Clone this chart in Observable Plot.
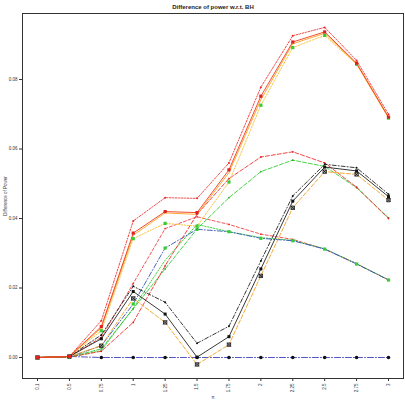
<!DOCTYPE html>
<html><head><meta charset="utf-8">
<script src="https://cdn.jsdelivr.net/npm/d3@7"></script>
<script src="https://cdn.jsdelivr.net/npm/@observablehq/plot@0.6"></script>
<style>body{margin:0;background:#fff;font-family:"Liberation Sans",Arial,sans-serif}</style>
</head><body><div id="chart"></div>
<script>
const piLabels = ["0.1","0.5","0.75","1","1.25","1.5","1.75","2","2.25","2.5","2.75","3"];
const yTicks = [0, 0.02, 0.04, 0.06, 0.08];
const titleText = "Difference of power w.r.t. BH";

const serA = [0,0.0003,0.0106,0.0393,0.046,0.0458,0.056,0.0778,0.0926,0.095,0.0855,0.070];
const serB = [0,0.0003,0.0089,0.0358,0.042,0.0417,0.054,0.0752,0.0908,0.0937,0.0847,0.0692];
const serC = [0,0.0003,0.0085,0.0352,0.0416,0.0412,0.0532,0.0742,0.0903,0.0933,0.0845,0.0690];
const serD = [0,0.0003,0.0077,0.0342,0.0386,0.0378,0.0505,0.0726,0.0892,0.0927,0.0844,0.0689];
const serE = [0,0.0001,0.0018,0.0101,0.0264,0.0412,0.0515,0.0577,0.0592,0.056,0.049,0.040];
const serF = [0,0.0001,0.0025,0.014,0.0255,0.037,0.046,0.0535,0.0568,0.055,0.0489,0.0402];
const serG = [0,0.0001,0.0034,0.0154,0.0315,0.0369,0.0362,0.0343,0.0336,0.0312,0.0269,0.0223];
const serG2 = [0,0.0001,0.002,0.0142,0.028,0.0383,0.0362,0.0345,0.0337,0.0313,0.027,0.0224];
const serL = [0,0.0002,0.0058,0.0213,0.0371,0.0405,0.0383,0.0355,0.034,0.0312,0.027,0.0223];
const serH = [0,0.0003,0.0054,0.019,0.0125,0.0001,0.006,0.0255,0.045,0.0548,0.0537,0.0463];
const serI = [0,0.0003,0.0065,0.0205,0.0159,0.0041,0.009,0.0278,0.0465,0.0556,0.0546,0.047];
const serJ = [0,0.0003,0.0034,0.017,0.0101,-0.002,0.0037,0.0235,0.0431,0.0535,0.0527,0.0453];
const serK = [0,0.0003,0,0,0,0,0,0,0,0,0,0];

const rows = v => v.map((y, i) => ({i, y}));

const styles = [
  {d: serK, stroke: "#4040c0", dash: "6,2,1,2", sym: "circle", fill: "#111", r: 1.8},
  {d: serL, stroke: "#ee4444", dash: "3,2", sym: "circle", fill: "#e33", r: 0.9},
  {d: serG2, stroke: "#33cc33", dash: "1.5,1.5", sym: null},
  {d: serG, stroke: "#3355bb", dash: "5,2,1,2", sym: "square", fill: "#33cc33", r: 1.8},
  {d: serF, stroke: "#33cc33", dash: "4,2", sym: "circle", fill: "#22aa22", r: 0.9},
  {d: serE, stroke: "#ee3333", dash: "4,2", sym: "circle", fill: "#dd2222", r: 0.9},
  {d: serJ, stroke: "#f0a020", dash: "4,2", sym: "xbox"},
  {d: serI, stroke: "#222", dash: "4,2,1,2", sym: "circle", fill: "#111", r: 1.0},
  {d: serH, stroke: "#222", dash: null, sym: "square", fill: "#111", r: 1.7},
  {d: serD, stroke: "#f5c030", dash: "1.5,1.5", sym: "square", fill: "#33cc33", r: 1.8},
  {d: serC, stroke: "#ffa020", dash: null, sym: null},
  {d: serB, stroke: "#ee3a1a", dash: null, sym: "square", fill: "#dd2020", r: 1.8},
  {d: serA, stroke: "#ee3333", dash: "2,1.5,1,1.5", sym: "circle", fill: "#e22", r: 1.0}
];

const marks = [];
for (const s of styles) {
  marks.push(Plot.line(rows(s.d), {x: "i", y: "y", stroke: s.stroke, strokeWidth: 0.9, strokeDasharray: s.dash || undefined}));
}
for (const s of styles) {
  if (s.sym === "xbox") {
    marks.push(Plot.dot(rows(s.d), {x: "i", y: "y", symbol: "square", r: 1.9, stroke: "#111", strokeWidth: 0.8, fill: "#ccc"}));
    marks.push(Plot.dot(rows(s.d), {x: "i", y: "y", symbol: "times", r: 1.9, stroke: "#111", strokeWidth: 0.8}));
  } else if (s.sym) {
    marks.push(Plot.dot(rows(s.d), {x: "i", y: "y", symbol: s.sym, r: s.r, fill: s.fill, stroke: "none"}));
  }
}

const chart = Plot.plot({
  width: 405, height: 403,
  marginLeft: 22, marginRight: 2, marginTop: 13, marginBottom: 25,
  style: {fontFamily: "Liberation Sans, Arial, sans-serif", background: "#fff"},
  x: {type: "linear", domain: [-0.47, 11.47]},
  y: {type: "linear", domain: [-0.00604, 0.099]},
  marks: [
    Plot.frame({stroke: "#333", strokeWidth: 1}),
    Plot.axisX(d3.range(piLabels.length), {tickFormat: i => piLabels[i], tickRotate: -90, tickSize: 3, tickPadding: 2, fontSize: 4.5, label: "π", labelAnchor: "center", labelArrow: "none", labelOffset: 20, color: "#333"}),
    Plot.axisY(yTicks, {tickFormat: d3.format(".2f"), tickSize: 3, tickPadding: 2, fontSize: 4.5, label: "Difference of Power", labelAnchor: "center", labelArrow: "none", labelOffset: 19, color: "#333"}),
    ...marks,
    Plot.text([titleText], {frameAnchor: "top", dy: -9, fontWeight: "bold", fontSize: 6, fill: "#222"})
  ]
});
document.getElementById("chart").appendChild(chart);
</script></body></html>
